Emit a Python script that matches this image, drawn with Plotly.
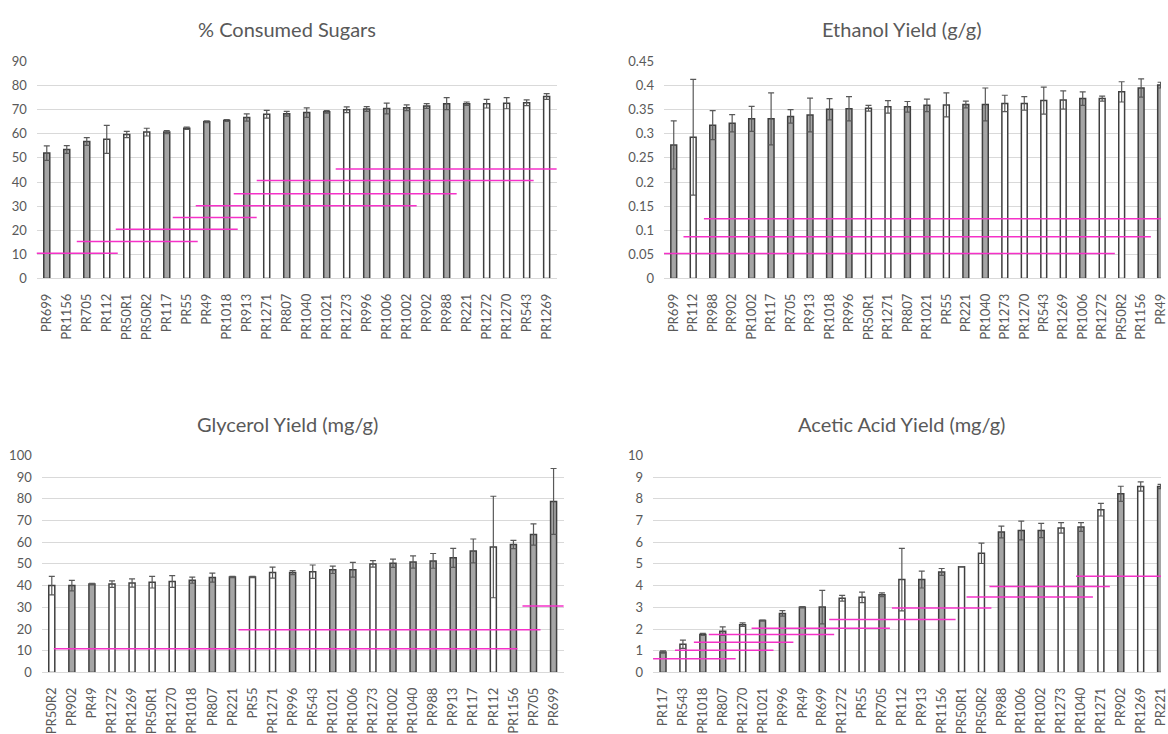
import plotly.graph_objects as go

# ---------------- data ----------------
# strains drawn with a white fill (all others are gray)
light_strains = ["PR112", "PR50R1", "PR50R2", "PR55", "PR1271", "PR1273",
                 "PR1272", "PR1270", "PR543", "PR1269"]

# % consumed sugars
sugar_strains = ["PR699", "PR1156", "PR705", "PR112", "PR50R1", "PR50R2", "PR117",
                 "PR55", "PR49", "PR1018", "PR913", "PR1271", "PR807", "PR1040",
                 "PR1021", "PR1273", "PR996", "PR1006", "PR1002", "PR902", "PR988",
                 "PR221", "PR1272", "PR1270", "PR543", "PR1269"]
sugar_values = [52.0, 53.5, 56.8, 57.7, 59.7, 60.7, 60.7, 62.3, 65.0, 65.5, 66.8,
                68.1, 68.3, 68.8, 69.1, 70.0, 70.3, 70.5, 70.8, 71.5, 72.5, 72.5,
                72.5, 72.7, 72.9, 75.5]
sugar_errors = [3.0, 1.6, 1.6, 5.8, 1.3, 1.6, 0.6, 0.5, 0.4, 0.4, 1.5, 1.6, 1.0,
                2.0, 0.5, 1.2, 1.0, 2.2, 1.2, 1.0, 2.5, 0.7, 1.8, 2.3, 1.2, 1.2]
sugar_group_start = [-0.6, 1.5, 3.45, 6.3, 7.45, 9.35, 10.5, 14.45]
sugar_group_end = [3.55, 7.55, 9.55, 10.5, 18.5, 20.5, 24.35, 25.6]
sugar_group_level = [10.4, 15.3, 20.4, 25.3, 30.1, 35.1, 40.6, 45.4]

# ethanol yield (g/g)
ethanol_strains = ["PR699", "PR112", "PR988", "PR902", "PR1002", "PR117", "PR705",
                   "PR913", "PR1018", "PR996", "PR50R1", "PR1271", "PR807", "PR1021",
                   "PR55", "PR221", "PR1040", "PR1273", "PR1270", "PR543", "PR1269",
                   "PR1006", "PR1272", "PR50R2", "PR1156", "PR49"]
ethanol_values = [0.277, 0.293, 0.318, 0.322, 0.331, 0.331, 0.336, 0.339, 0.351,
                  0.352, 0.353, 0.356, 0.356, 0.359, 0.360, 0.361, 0.361, 0.363,
                  0.363, 0.369, 0.370, 0.373, 0.373, 0.387, 0.395, 0.401]
ethanol_errors = [0.050, 0.120, 0.030, 0.018, 0.026, 0.054, 0.014, 0.035, 0.022,
                  0.025, 0.006, 0.013, 0.011, 0.013, 0.025, 0.007, 0.034, 0.017,
                  0.014, 0.028, 0.019, 0.014, 0.005, 0.021, 0.019, 0.006]
ethanol_group_start = [-0.6, 0.5, 1.55]
ethanol_group_end = [22.65, 24.5, 25.6]
ethanol_group_level = [0.0518, 0.0867, 0.1236]

# glycerol yield (mg/g)
glycerol_strains = ["PR50R2", "PR902", "PR49", "PR1272", "PR1269", "PR50R1", "PR1270",
                    "PR1018", "PR807", "PR221", "PR55", "PR1271", "PR996", "PR543",
                    "PR1021", "PR1006", "PR1273", "PR1002", "PR1040", "PR988", "PR913",
                    "PR117", "PR112", "PR1156", "PR705", "PR699"]
glycerol_values = [40.0, 40.0, 40.7, 40.7, 41.2, 41.6, 41.9, 42.5, 43.7, 44.0, 44.0,
                   46.0, 46.0, 46.4, 47.3, 47.3, 50.0, 50.3, 50.9, 51.4, 52.8, 56.0,
                   57.8, 59.0, 63.6, 78.8]
glycerol_errors = [4.3, 2.4, 0.4, 1.5, 1.9, 2.7, 2.7, 1.4, 2.1, 0.3, 0.3, 2.5, 0.9,
                   3.1, 1.7, 3.4, 1.5, 1.9, 2.8, 3.4, 4.4, 5.5, 23.4, 1.9, 4.9, 15.2]
glycerol_group_start = [0.1, 9.3, 23.45]
glycerol_group_end = [23.2, 24.35, 25.6]
glycerol_group_level = [10.9, 19.7, 30.6]

# acetic acid yield (mg/g)
acetic_strains = ["PR117", "PR543", "PR1018", "PR807", "PR1270", "PR1021", "PR996",
                  "PR49", "PR699", "PR1272", "PR55", "PR705", "PR112", "PR913",
                  "PR1156", "PR50R1", "PR50R2", "PR988", "PR1006", "PR1002", "PR1273",
                  "PR1040", "PR1271", "PR902", "PR1269", "PR221"]
acetic_values = [0.94, 1.30, 1.75, 1.90, 2.20, 2.39, 2.72, 3.00, 3.01, 3.42, 3.46,
                 3.58, 4.28, 4.28, 4.63, 4.87, 5.49, 6.47, 6.54, 6.54, 6.66, 6.70,
                 7.50, 8.23, 8.57, 8.57]
acetic_errors = [0.05, 0.19, 0.05, 0.20, 0.08, 0.02, 0.13, 0.03, 0.77, 0.13, 0.24,
                 0.09, 1.44, 0.39, 0.16, 0.01, 0.47, 0.27, 0.43, 0.33, 0.24, 0.20,
                 0.29, 0.35, 0.21, 0.10]
acetic_group_start = [-0.65, 0.6, 1.55, 2.3, 4.45, 8.35, 11.5, 15.25, 16.4, 20.75]
acetic_group_end = [3.65, 5.55, 6.55, 8.6, 11.4, 14.7, 16.5, 21.6, 22.45, 25.6]
acetic_group_level = [0.63, 1.02, 1.39, 1.75, 2.04, 2.44, 2.97, 3.48, 3.96, 4.43]

# ---------------- style ----------------
FONT = "Lato, 'Open Sans', sans-serif"
TEXT = "#595959"
GRID = "#d9d9d9"
GRAY_FILL = "#a5a5a5"
EDGE = "#3f3f3f"
MAGENTA = "#f531c8"

W, H = 1168, 734

panels = [
    dict(title="% Consumed Sugars", strains=sugar_strains, values=sugar_values,
         errors=sugar_errors, gs=sugar_group_start, ge=sugar_group_end,
         gl=sugar_group_level, yrange=[0, 90], dtick=10, tickformat="d",
         xdom=[37 / W, 560 / W], ydom=[1 - 278 / H, 1 - 55 / H],
         xrange=[-0.5, 25.5], title_xy=(289 / W, 1 - 22 / H)),
    dict(title="Ethanol Yield (g/g)", strains=ethanol_strains, values=ethanol_values,
         errors=ethanol_errors, gs=ethanol_group_start, ge=ethanol_group_end,
         gl=ethanol_group_level, yrange=[0, 0.45], dtick=0.05, tickformat="",
         xdom=[668 / W, 1.0], ydom=[1 - 278 / H, 1 - 55 / H],
         xrange=[-0.5, 25.02], title_xy=(907 / W, 1 - 22 / H)),
    dict(title="Glycerol Yield (mg/g)", strains=glycerol_strains, values=glycerol_values,
         errors=glycerol_errors, gs=glycerol_group_start, ge=glycerol_group_end,
         gl=glycerol_group_level, yrange=[0, 100], dtick=10, tickformat="d",
         xdom=[42 / W, 567 / W], ydom=[1 - 683 / H, 1 - 460 / H],
         xrange=[-0.5, 25.5], title_xy=(289 / W, 1 - 428 / H)),
    dict(title="Acetic Acid Yield (mg/g)", strains=acetic_strains, values=acetic_values,
         errors=acetic_errors, gs=acetic_group_start, ge=acetic_group_end,
         gl=acetic_group_level, yrange=[0, 10], dtick=1, tickformat="d",
         xdom=[657 / W, 1.0], ydom=[1 - 683 / H, 1 - 460 / H],
         xrange=[-0.5, 25.02], title_xy=(907 / W, 1 - 428 / H)),
]

fig = go.Figure()
layout = dict(
    width=W, height=H, margin=dict(l=0, r=0, t=0, b=0),
    paper_bgcolor="white", plot_bgcolor="white", showlegend=False,
    font=dict(family=FONT, color=TEXT), shapes=[], annotations=[],
)

for i, p in enumerate(panels, start=1):
    sfx = "" if i == 1 else str(i)
    xname, yname = "x" + sfx, "y" + sfx
    fills = ["white" if s in light_strains else GRAY_FILL for s in p["strains"]]

    fig.add_trace(go.Bar(
        x=p["strains"], y=p["values"], xaxis=xname, yaxis=yname, width=0.3,
        marker=dict(color=fills, line=dict(color=EDGE, width=1.5)),
        error_y=dict(type="data", array=p["errors"], symmetric=True,
                     color="#595959", thickness=1.2, width=3),
        hoverinfo="x+y",
    ))

    layout["xaxis" + sfx] = dict(
        domain=p["xdom"], anchor=yname, type="category", range=p["xrange"],
        showgrid=False, showline=True, linecolor=GRID, linewidth=1,
        ticks="", tickangle=-90, ticklabelstandoff=9,
        tickfont=dict(family=FONT, size=13, color=TEXT), fixedrange=True,
    )
    layout["yaxis" + sfx] = dict(
        domain=p["ydom"], anchor=xname, range=p["yrange"], dtick=p["dtick"],
        tick0=0, tickformat=p["tickformat"], showgrid=True, gridcolor=GRID,
        gridwidth=1, zeroline=False, showline=False, ticks="",
        ticklabelstandoff=9, tickfont=dict(family=FONT, size=13, color=TEXT),
        fixedrange=True,
    )

    # significance-group lines
    for x0, x1, lvl in zip(p["gs"], p["ge"], p["gl"]):
        layout["shapes"].append(dict(
            type="line", xref=xname, yref=yname, x0=x0, x1=x1, y0=lvl, y1=lvl,
            line=dict(color=MAGENTA, width=1.5), layer="above",
        ))

    tx, ty = p["title_xy"]
    layout["annotations"].append(dict(
        text=p["title"], xref="paper", yref="paper", x=tx, y=ty,
        xanchor="center", yanchor="middle", showarrow=False,
        font=dict(family=FONT, size=20, color=TEXT),
    ))

fig.update_layout(**layout)
fig.write_html("out.html")
